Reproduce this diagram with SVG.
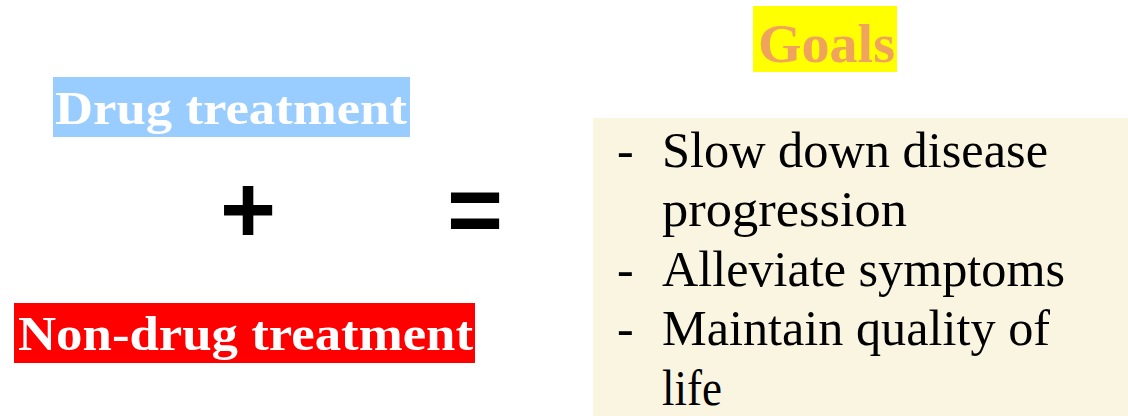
<svg xmlns="http://www.w3.org/2000/svg" width="1128" height="416" viewBox="0 0 1128 416">
<style>
.lbl{font-family:"Liberation Serif","DejaVu Serif",serif;font-weight:bold;fill:#fff}
.op{font-family:"Liberation Sans",Arial,sans-serif;font-weight:bold;fill:#000}
.item{font-family:"Liberation Serif","DejaVu Serif",serif;font-size:50px;fill:#000}
</style>
<rect width="1128" height="416" fill="#fff"/>
<g id="drug">
<rect x="53" y="77" width="357" height="60" fill="#99CCFF"/>
<text class="lbl" x="55" y="124" font-size="46" textLength="352" lengthAdjust="spacingAndGlyphs">Drug treatment</text>
</g>
<g id="nondrug">
<rect x="14" y="303" width="461" height="60" fill="#FF0000"/>
<text class="lbl" x="18" y="350" font-size="48" textLength="455" lengthAdjust="spacingAndGlyphs">Non-drug treatment</text>
</g>
<g id="goals">
<rect x="753" y="6" width="144" height="66" fill="#FFFF00"/>
<text class="lbl" x="758" y="62" font-size="54" style="fill:#F0A35C" textLength="137" lengthAdjust="spacingAndGlyphs">Goals</text>
</g>
<g id="connectors">
<text class="op" x="248" y="243" font-size="96" text-anchor="middle">+</text>
<text class="op" x="475" y="243" font-size="96" text-anchor="middle">=</text>
</g>
<g id="goalbox">
<rect x="593" y="118" width="535" height="298" fill="#FAF5E0"/>
<text class="item" x="617" y="167">-</text>
<text class="item" x="662" y="167" textLength="386" lengthAdjust="spacingAndGlyphs">Slow down disease</text>
<text class="item" x="662" y="226" textLength="245" lengthAdjust="spacingAndGlyphs">progression</text>
<text class="item" x="617" y="286">-</text>
<text class="item" x="662" y="286" textLength="403" lengthAdjust="spacingAndGlyphs">Alleviate symptoms</text>
<text class="item" x="617" y="345">-</text>
<text class="item" x="662" y="345" textLength="388" lengthAdjust="spacingAndGlyphs">Maintain quality of</text>
<text class="item" x="662" y="405" textLength="60" lengthAdjust="spacingAndGlyphs">life</text>
</g>
</svg>
